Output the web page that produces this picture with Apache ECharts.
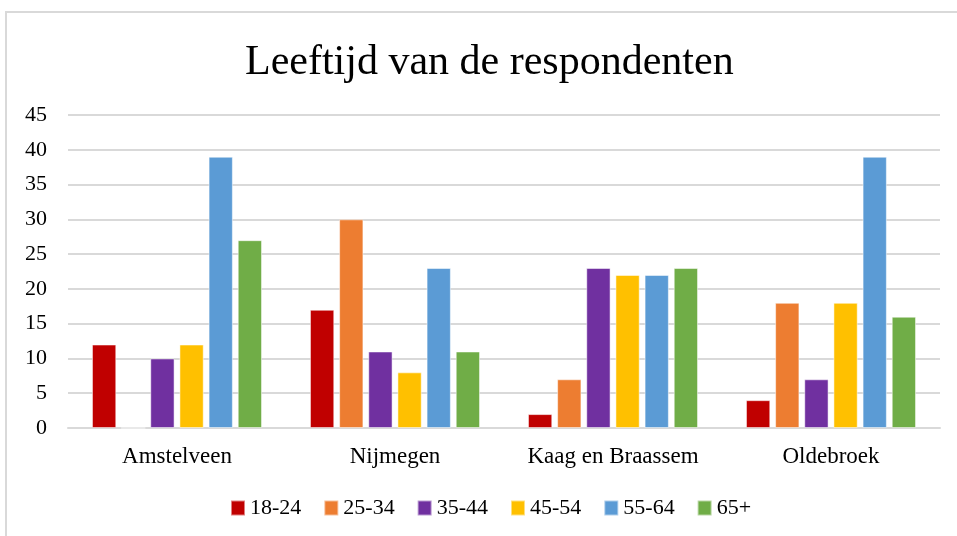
<!DOCTYPE html>
<html>
<head>
<meta charset="utf-8">
<script src="https://cdn.jsdelivr.net/npm/echarts@6/dist/echarts.min.js"></script>
<style>
html,body{margin:0;padding:0;background:#fff;}
#c{width:957px;height:536px;}
</style>
</head>
<body>
<div id="c"></div>
<script>
var categories = ['Amstelveen', 'Nijmegen', 'Kaag en Braassem', 'Oldebroek'];
var seriesNames = ['18-24', '25-34', '35-44', '45-54', '55-64', '65+'];
var v1824 = [12, 17, 2, 4];
var v2534 = [0, 30, 7, 18];
var v3544 = [10, 11, 23, 7];
var v4554 = [12, 8, 22, 18];
var v5564 = [39, 23, 22, 39];
var v65 = [27, 11, 23, 16];
var colors = ['#c00000', '#ed7d31', '#7030a0', '#ffc000', '#5b9bd5', '#70ad47'];
var yTicks = [0, 5, 10, 15, 20, 25, 30, 35, 40, 45];

var allValues = [v1824, v2534, v3544, v4554, v5564, v65];
var font = '"Liberation Serif", "Times New Roman", serif';

var chart = echarts.init(document.getElementById('c'));
chart.setOption({
  backgroundColor: '#fff',
  animation: false,
  color: colors,
  graphic: [{
    type: 'rect', shape: {x: 6, y: 12, width: 1000, height: 600},
    style: {fill: 'none', stroke: '#d9d9d9', lineWidth: 2}, z: -1
  }],
  title: {
    text: 'Leeftijd van de respondenten',
    left: 240, top: 37,
    textStyle: {fontFamily: font, fontSize: 42, fontWeight: 'normal', color: '#000'}
  },
  legend: {
    bottom: 12, left: 225,
    itemWidth: 14, itemHeight: 15, itemGap: 22,
    icon: 'rect',
    textStyle: {fontFamily: font, fontSize: 22, color: '#000'},
    data: seriesNames
  },
  grid: {left: 68, right: 17, top: 115, bottom: 108},
  xAxis: {
    type: 'category', data: categories,
    axisLine: {lineStyle: {color: '#d9d9d9', width: 2}},
    axisTick: {show: false},
    axisLabel: {fontFamily: font, fontSize: 23, color: '#000', margin: 17, interval: 0}
  },
  yAxis: {
    type: 'value', min: yTicks[0], max: yTicks[yTicks.length - 1], interval: 5,
    axisLine: {show: false}, axisTick: {show: false},
    splitLine: {lineStyle: {color: '#d9d9d9', width: 2}},
    axisLabel: {fontFamily: font, fontSize: 22, color: '#000', margin: 21}
  },
  series: seriesNames.map(function (n, i) {
    return {
      name: n, type: 'bar', data: allValues[i],
      barGap: '20%', barCategoryGap: '22%',
      itemStyle: {borderColor: 'rgba(255,255,255,0.5)', borderWidth: 1}
    };
  })
});
</script>
</body>
</html>
